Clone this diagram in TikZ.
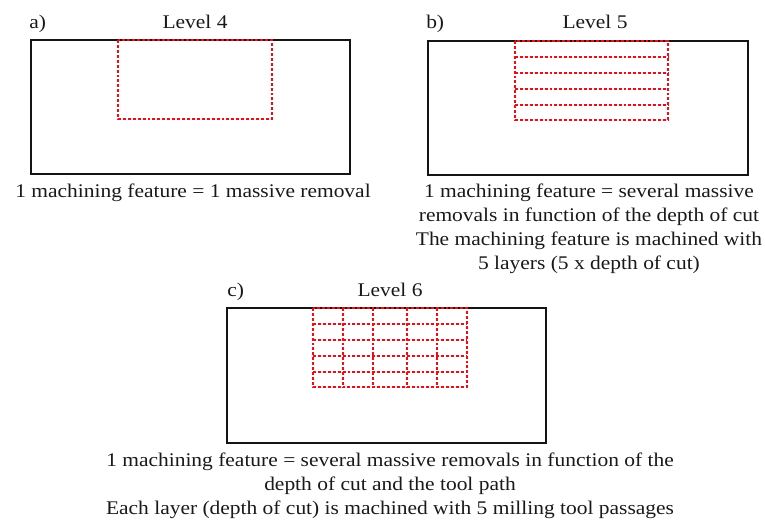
\documentclass[tikz,border=0pt]{standalone}
\usepackage{fontspec}
\setmainfont{Liberation Serif}[FakeStretch=1.11]
\definecolor{stockcol}  {RGB}{ 20, 20, 20}
\definecolor{featcol}   {RGB}{245, 10, 20}
\definecolor{textcol}   {RGB}{ 25, 25, 25}

\begin{document}
\begin{tikzpicture}[
  % one unit = one pixel of the 765 x 519 layout, y axis pointing down
  x=0.75pt,y=-0.75pt,
  line cap=butt,line join=miter,
  stock/.style={draw=stockcol,line width=0.9pt},
  feature/.style={draw=featcol,line width=1pt,dash pattern=on 2.2pt off 1.5pt},
  tag/.style={font=\fontsize{14.5}{17}\selectfont,text=textcol,inner sep=0pt,anchor=base west},
  level/.style={font=\fontsize{14.5}{17}\selectfont,text=textcol,inner sep=0pt,anchor=base},
  % multi-line notes: the base anchor sits on the last line
  note/.style={font=\fontsize{14.5}{18}\selectfont,text=textcol,inner sep=0pt,anchor=base,align=center}
]
\useasboundingbox (0,0) rectangle (765,519);

% ---- a) level 4 ----------------------------------------------------------
\draw[stock] (31,40) rectangle (350,174);
\draw[feature] (118,40) rectangle (272,119);
\node[tag]   (tagA)   at (29,28)  {a)};
\node[level] (levelA) at (195,28) {Level 4};
\node[note]  (noteA)  at (193,197) {1 machining feature = 1 massive removal};

% ---- b) level 5 ----------------------------------------------------------
\draw[stock] (428,41) rectangle (748,175);
\draw[feature] (515,41) rectangle (668,120);
\foreach \y in {57,73,89,105}
  \draw[feature] (515,\y) -- (668,\y);
\node[tag]   (tagB)   at (426,28) {b)};
\node[level] (levelB) at (595,28) {Level 5};
\node[note]  (noteB)  at (589,269)
  {1 machining feature = several massive\\
   removals in function of the depth of cut\\
   The machining feature is machined with\\
   5 layers (5 x depth of cut)};

% ---- c) level 6 ----------------------------------------------------------
\draw[stock] (227,308) rectangle (546,443);
\draw[feature] (313,308) rectangle (467,387);
\foreach \y in {324,340,356,372}
  \draw[feature] (313,\y) -- (467,\y);
\foreach \x in {343,373,407,437}
  \draw[feature] (\x,308) -- (\x,387);
\node[tag]   (tagC)   at (227,296) {c)};
\node[level] (levelC) at (390,296) {Level 6};
\node[note]  (noteC)  at (390,514)
  {1 machining feature = several massive removals in function of the\\
   depth of cut and the tool path\\
   Each layer (depth of cut) is machined with 5 milling tool passages};

\end{tikzpicture}
\end{document}
